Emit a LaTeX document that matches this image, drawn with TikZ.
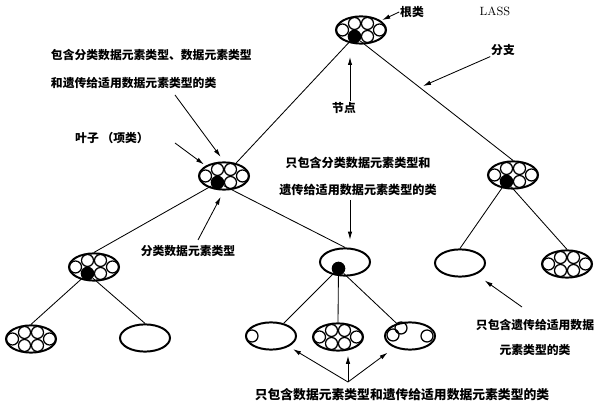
\documentclass[tikz,border=0pt]{standalone}
\usepackage{fontspec}
\newfontfamily\cjk{Noto Sans CJK SC}
\usetikzlibrary{arrows.meta, positioning, shapes.geometric, calc}
\tikzset{
  % Class nodes (ellipses)
  cls/.style={
    draw, ellipse, line width=1.4pt,
    minimum width=1.25cm, minimum height=0.68cm,
    inner sep=0pt,
  },
  % Element circles inside a class
  elem/.style={line width=0.9pt},
  % Black hub dot of a class with children
  hub/.style={circle, fill=black, inner sep=0pt, minimum size=0.34cm},
  % Tree branches
  branch/.style={line width=0.6pt},
  % Annotations
  lbl/.style={font=\cjk\bfseries\fontsize{8.4}{10}\selectfont, inner sep=0.5pt},
  lbltwo/.style={lbl, align=center},
  arr/.style={-{Latex[length=2mm,width=1.1mm]}, line width=0.6pt},
}

\begin{document}
\begin{tikzpicture}[x=0.025cm, y=-0.025cm]
\useasboundingbox (0,0) rectangle (600,411);

%% ═══════════════════════════════════════════════════════════════════════════
%% CLASS TREE
%% ═══════════════════════════════════════════════════════════════════════════

\node[cls] (R) at (361,30) {};
\node[cls] (A) at (224,176) {};
\node[cls] (B) at (513,175) {};
\node[cls] (C) at (94,267) {};
\node[cls] (D) at (345,262) {};
\node[cls] (E) at (460,263) {};
\node[cls] (F) at (567,264) {};
\node[cls] (G) at (31,339) {};
\node[cls] (H) at (145,338) {};
\node[cls] (I) at (271,336) {};
\node[cls] (J) at (338,337) {};
\node[cls] (K) at (410,336) {};

% Element circles: inner classes miss the lower left one (hub sits there)
\foreach \n in {R,A,B,C}
  \foreach \dx/\dy in {-18.5/0, -6.5/-6.5, 6.5/-6.5, 18.5/0, 6.5/6.5}
    \draw[elem] ([shift={(\dx,\dy)}]\n.center) circle[radius=0.15cm];
\foreach \n in {F,G,J}
  \foreach \dx/\dy in {-18.5/0, -6.5/-6.5, 6.5/-6.5, 18.5/0, 6.5/6.5, -6.5/6.5}
    \draw[elem] ([shift={(\dx,\dy)}]\n.center) circle[radius=0.15cm];
\draw[elem] ([shift={(-19,0)}]I.center) circle[radius=0.15cm];
\foreach \dx/\dy in {-17/-1, -9/-8, 17/0}
  \draw[elem] ([shift={(\dx,\dy)}]K.center) circle[radius=0.15cm];

% Hub dots
\foreach \n in {R,A,B,C,D}
  \node[hub] (\n-h) at ([shift={(-6.5,6.5)}]\n.center) {};

% Branches
\draw[branch] (R-h) -- (A);
\draw[branch] (R-h) -- (B.north);
\draw[branch] (A-h) -- (C.north);
\draw[branch] (A-h) -- (D.north);
\draw[branch] (B-h) -- (E.north);
\draw[branch] (B-h) -- (F.north);
\draw[branch] (C-h) -- (G.north);
\draw[branch] (C-h) -- (H.north);
\draw[branch] (D-h) -- (I);
\draw[branch] (D-h) -- (J.north);
\draw[branch] (D-h) -- (K);

%% ═══════════════════════════════════════════════════════════════════════════
%% ANNOTATIONS
%% ═══════════════════════════════════════════════════════════════════════════

\node[lbl] (genlei) at (412,12) {根类};
\node[font=\fontsize{8.5}{10}\selectfont, inner sep=0pt] (lass) at (495,11) {LASS};
\node[lbl] (fenzhi) at (503,50) {分支};
\node[lbl] (jiedian) at (344,108) {节点};
\node[lbl, align=left, anchor=west,
      font=\cjk\bfseries\fontsize{8.4}{19.9}\selectfont] (baohan) at (50,69)
  {包含分类数据元素类型、数据元素类型\\和遗传给适用数据元素类型的类};
\node[lbl] (yezi) at (112,138) {叶子 （项类）};
\node[lbltwo, font=\cjk\bfseries\fontsize{8.6}{19.1}\selectfont] (zhifl) at (358,176.5)
  {只包含分类数据元素类型和\\遗传给适用数据元素类型的类};
\node[lbl] (fenlei) at (188,251) {分类数据元素类型};
\node[lbltwo, font=\cjk\bfseries\fontsize{8.4}{17.7}\selectfont] (zhiyc) at (535,337.5)
  {只包含遗传给适用数据\\元素类型的类};
\node[lbl, font=\cjk\bfseries\fontsize{9.1}{10}\selectfont] (zhisj) at (402,395)
  {只包含数据元素类型和遗传给适用数据元素类型的类};

% Arrow tails / tips
\coordinate (fzt) at (423,86);
\coordinate (jdt) at (350,57);
\coordinate (bht) at (175,95);
\coordinate (yzt) at (175,143);
\coordinate (zft) at (350,200);
\coordinate (flt) at (198,240);
\coordinate (yct) at (522,307);
\coordinate (sjt) at (348,382);

\draw[arr, shorten >=1pt] (genlei.west) -- (R);
\draw[arr] (fenzhi.south west) -- (fzt);
\draw[arr] (jiedian.north -| jdt) -- (jdt);
\draw[arr, shorten >=4pt] (bht) -- (A.north);
\draw[arr, shorten >=1.5pt] (yzt) -- (A.north west);
\draw[arr, shorten >=5.5pt] (zft) -- (zft |- D.north);
\draw[arr, shorten >=5pt] (flt) -- (A.south);
\draw[arr, shorten >=7.5pt] (yct) -- (E);
\draw[arr, shorten >=3.5pt] (sjt) -- (I);
\draw[arr, shorten >=3pt] (sjt) -- (sjt |- J.south);
\draw[arr, shorten >=6pt] (sjt) -- (K);

\end{tikzpicture}
\end{document}
